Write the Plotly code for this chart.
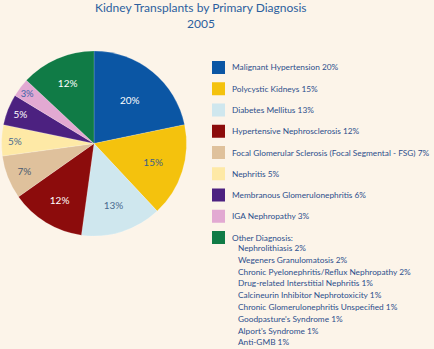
import plotly.graph_objects as go

W, H = 434, 349

labels = ["Malignant Hypertension", "Polycystic Kidneys", "Diabetes Mellitus",
          "Hypertensive Nephrosclerosis", "Focal Glomerular Sclerosis (Focal Segmental - FSG)",
          "Nephritis", "Membranous Glomerulonephritis", "IGA Nephropathy", "Other Diagnosis"]
pie_values = [20, 15, 13, 12, 7, 5, 5, 3, 12]
legend_pct = ["20%", "15%", "13%", "12%", "7%", "5%", "6%", "3%", ":"]
colors = ["#0b56a4", "#f4c20d", "#cfe7ee", "#8c0c0c", "#dfc19c",
          "#fee9a6", "#4c2180", "#e2a9d2", "#107b46"]
text_colors = ["#ffffff", "#3d5f86", "#4a6a8e", "#ffffff", "#4a5a70",
               "#4a6a8e", "#ffffff", "#3d63a8", "#ffffff"]

other_names = ["Nephrolithiasis", "Wegeners Granulomatosis",
               "Chronic Pyelonephritis/Reflux Nephropathy",
               "Drug-related Interstitial Nephritis",
               "Calcineurin Inhibitor Nephrotoxicity",
               "Chronic Glomerulonephritis Unspecified",
               "Goodpasture's Syndrome", "Alport's Syndrome", "Anti-GMB"]
other_values = [2, 2, 2, 1, 1, 1, 1, 1, 1]

BG = "#fcf4e9"
TITLE_COLOR = "#2c5f9e"
LEG_COLOR = "#2d4f8c"
FONT = "Lato, sans-serif"
LEG_SIZE = 8.3

def px(x):
    return x / W

def py(y):
    return 1 - y / H

fig = go.Figure()
fig.add_trace(go.Pie(
    labels=labels,
    values=pie_values,
    text=[f"{v}%" for v in pie_values],
    textinfo="text",
    textposition="inside",
    insidetextorientation="horizontal",
    insidetextfont=dict(color=text_colors, size=10, family="Lato, sans-serif"),
    marker=dict(colors=colors, line=dict(color="rgba(255,255,255,0.35)", width=0.5)),
    sort=False,
    direction="clockwise",
    rotation=0,
    showlegend=False,
    hoverinfo="label+text",
    domain=dict(x=[px(1), px(187)], y=[py(236), py(51)]),
))

annotations = [
    dict(text="Kidney Transplants by Primary Diagnosis", x=px(201), y=py(8),
         xref="paper", yref="paper", showarrow=False, xanchor="center", yanchor="middle",
         font=dict(family="Lato, sans-serif", size=12, color=TITLE_COLOR)),
    dict(text="2005", x=px(201), y=py(24),
         xref="paper", yref="paper", showarrow=False, xanchor="center", yanchor="middle",
         font=dict(family="Lato, sans-serif", size=12, color=TITLE_COLOR)),
]
shapes = []
row_y0, row_step = 67.5, 21.25
for i, (lab, pct, col) in enumerate(zip(labels, legend_pct, colors)):
    yc = row_y0 + i * row_step
    shapes.append(dict(type="rect", xref="paper", yref="paper",
                       x0=px(212), x1=px(225), y0=py(yc + 6.5), y1=py(yc - 6.5),
                       fillcolor=col, line=dict(width=0)))
    txt = lab + (":" if pct == ":" else " " + pct)
    annotations.append(dict(text=txt, x=px(230), y=py(yc), xref="paper", yref="paper",
                            showarrow=False, xanchor="left", yanchor="middle",
                            font=dict(family=FONT, size=LEG_SIZE, color=LEG_COLOR)))
sub_y0, sub_step = 248, 11.8
for j, (nm, v) in enumerate(zip(other_names, other_values)):
    annotations.append(dict(text=f"{nm} {v}%", x=px(236), y=py(sub_y0 + j * sub_step),
                            xref="paper", yref="paper", showarrow=False,
                            xanchor="left", yanchor="middle",
                            font=dict(family=FONT, size=LEG_SIZE, color=LEG_COLOR)))

fig.update_layout(
    width=W, height=H,
    margin=dict(l=0, r=0, t=0, b=0),
    paper_bgcolor=BG, plot_bgcolor=BG,
    annotations=annotations, shapes=shapes,
)
fig.write_html("out.html")
